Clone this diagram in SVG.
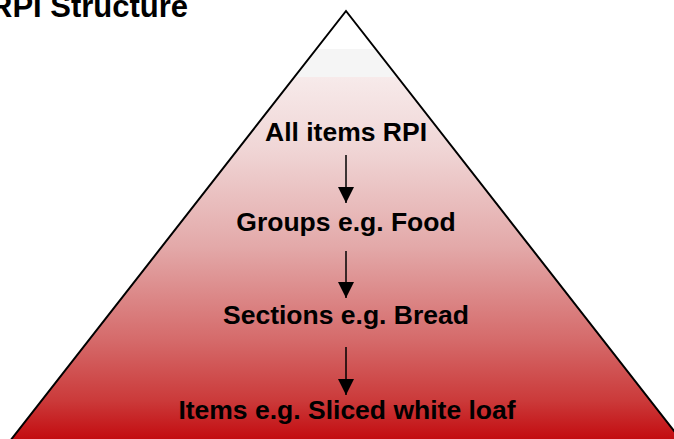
<svg xmlns="http://www.w3.org/2000/svg" width="674" height="439" viewBox="0 0 674 439">
  <style>
    .lbl { font-family: "Liberation Sans", Arial, sans-serif; font-weight: bold; font-size: 26.5px; fill: #000; text-anchor: middle; }
    .title { font-family: "Liberation Sans", Arial, sans-serif; font-weight: bold; font-size: 31px; fill: #000; }
    .conn { stroke: #000; stroke-width: 1.5; fill: none; }
  </style>
  <defs>
    <linearGradient id="grad" gradientUnits="userSpaceOnUse" x1="0" y1="11" x2="0" y2="439">
      <stop offset="0" stop-color="#ffffff"/>
      <stop offset="0.0885" stop-color="#ffffff"/>
      <stop offset="0.0886" stop-color="#f5f5f5"/>
      <stop offset="0.154" stop-color="#f5f5f5"/>
      <stop offset="0.155" stop-color="#f7eaea"/>
      <stop offset="0.32" stop-color="#f0d6d6"/>
      <stop offset="0.55" stop-color="#e3a9a9"/>
      <stop offset="0.77" stop-color="#d56a6a"/>
      <stop offset="0.91" stop-color="#cb3a3a"/>
      <stop offset="1" stop-color="#c30c10"/>
    </linearGradient>
    <marker id="arrow" viewBox="0 0 16 16" refX="16" refY="8" markerWidth="16" markerHeight="16" markerUnits="userSpaceOnUse" orient="auto">
      <path d="M0,0 L16,8 L0,16 Z" fill="#000"/>
    </marker>
  </defs>

  <g id="title">
    <text class="title" x="-10" y="17">RPI Structure</text>
  </g>

  <g id="pyramid">
    <path d="M346,11 L682,441 L10,441 Z" fill="url(#grad)" stroke="#000" stroke-width="2"/>
  </g>

  <g id="connectors">
    <line class="conn" x1="346" y1="155" x2="346" y2="203" marker-end="url(#arrow)"/>
    <line class="conn" x1="346" y1="251" x2="346" y2="298" marker-end="url(#arrow)"/>
    <line class="conn" x1="346" y1="347" x2="346" y2="395" marker-end="url(#arrow)"/>
  </g>

  <g id="node-all-items">
    <text class="lbl" x="346" y="141">All items RPI</text>
  </g>
  <g id="node-groups">
    <text class="lbl" x="346" y="231">Groups e.g. Food</text>
  </g>
  <g id="node-sections">
    <text class="lbl" x="346" y="324">Sections e.g. Bread</text>
  </g>
  <g id="node-items">
    <text class="lbl" x="347" y="419">Items e.g. Sliced white loaf</text>
  </g>
</svg>
